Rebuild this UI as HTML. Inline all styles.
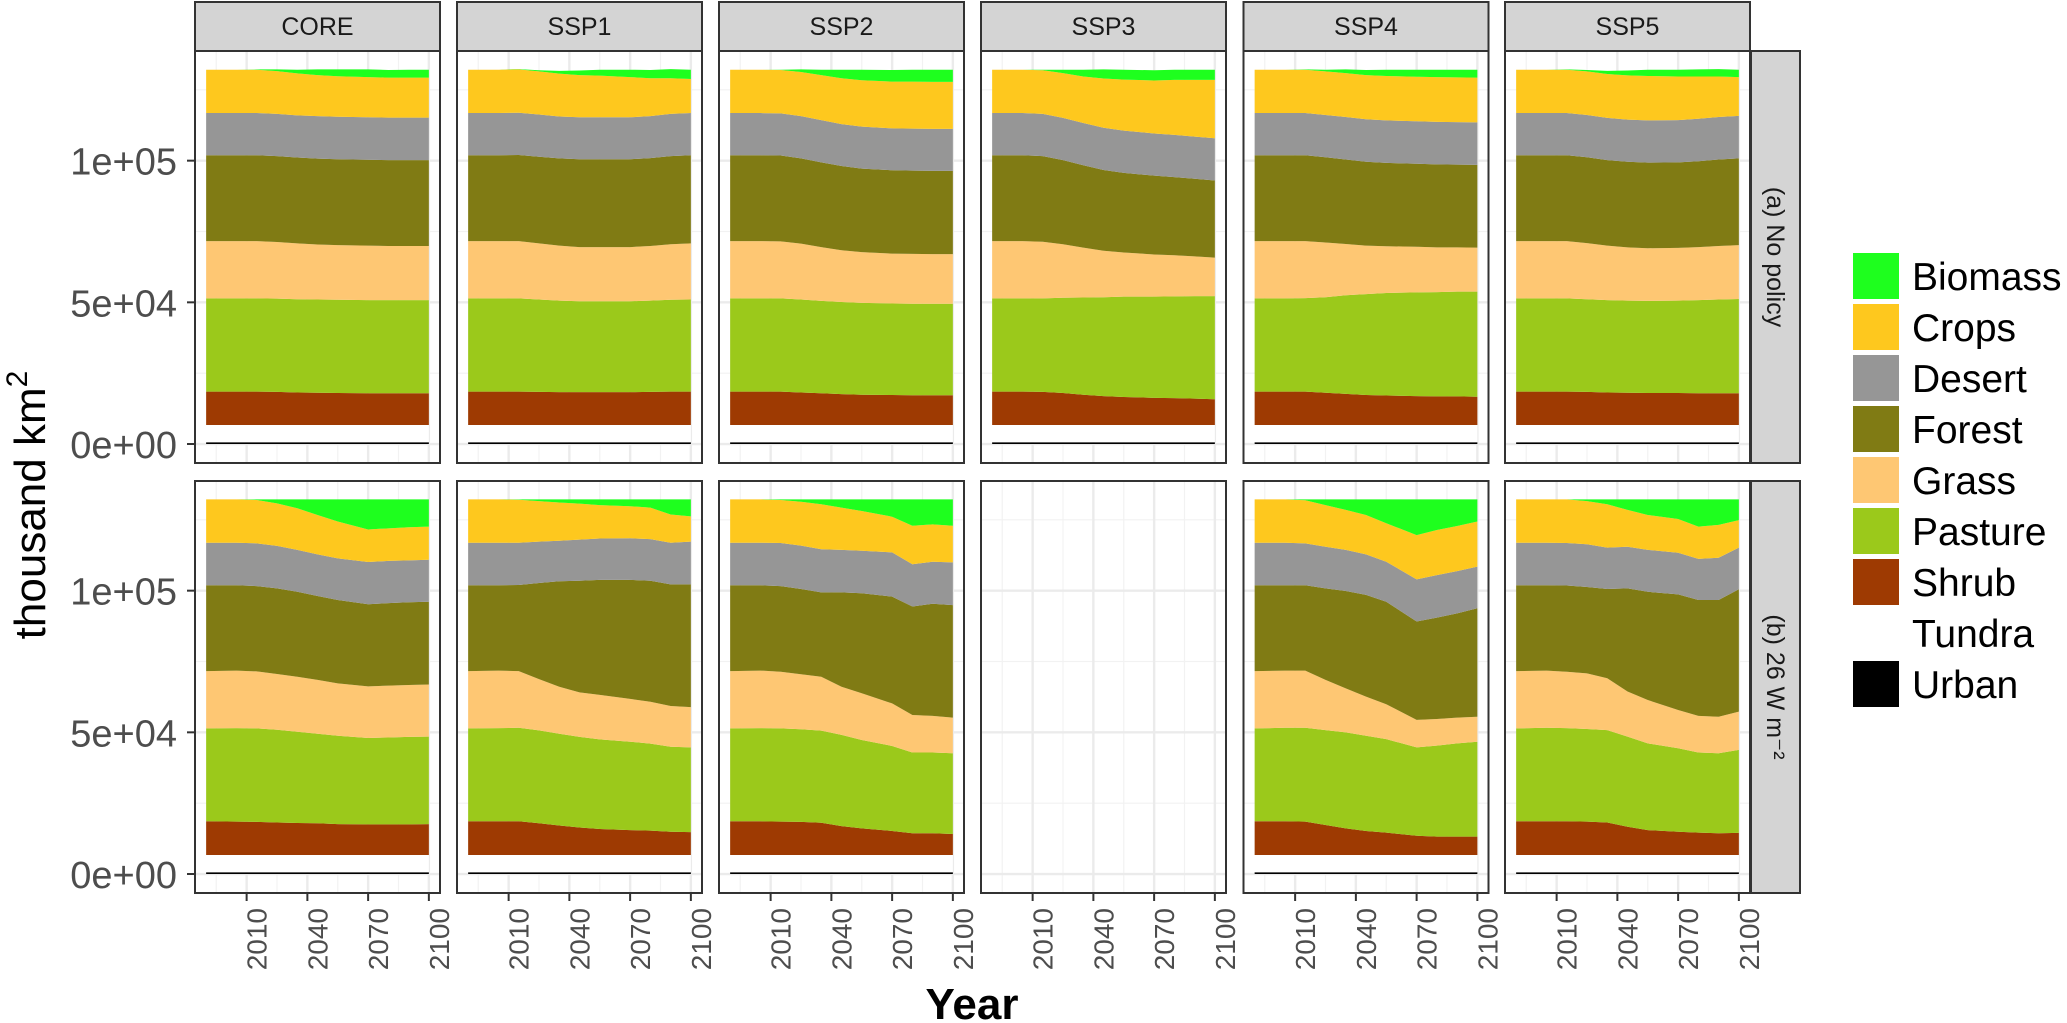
<!DOCTYPE html>
<html><head><meta charset="utf-8"><title>Land cover by scenario</title>
<style>html,body{margin:0;padding:0;background:#fff}svg{display:block;font-family:"Liberation Sans",Arial,sans-serif}</style>
</head><body>
<svg id="chart" width="2067" height="1023" viewBox="0 0 2067 1023" xmlns="http://www.w3.org/2000/svg">
<rect x="0" y="0" width="2067" height="1023" fill="#fff"/>
<g id="panels"></g>
<g id="axes"></g>
<text transform="translate(45,505) rotate(-90)" text-anchor="middle" font-size="44" fill="#000">thousand km<tspan font-size="30" dy="-18">2</tspan></text>
<text x="972" y="1019" text-anchor="middle" font-size="44" font-weight="bold" fill="#000">Year</text>
<g id="legend"></g>
</svg>
<script>
const years = [1990,2005,2015,2025,2035,2045,2055,2070,2080,2090,2100];
const scenarios = ["CORE","SSP1","SSP2","SSP3","SSP4","SSP5"];
const policies = ["(a) No policy","(b) 26 W m\u207B\u00B2"];
const yTicks = [0,50000,100000];
const yTickLabels = ["0e+00","5e+04","1e+05"];
const yMinor = [25000,75000,125000];
const xTicks = [2010,2040,2070,2100];
const xMinor = [1995,2025,2055,2085];
const categories = ["Urban","Tundra","Shrub","Pasture","Grass","Forest","Desert","Crops","Biomass"];
const legendOrder = ["Biomass","Crops","Desert","Forest","Grass","Pasture","Shrub","Tundra","Urban"];
const colors = {Biomass:"#1EFF1E",Crops:"#FEC81E",Desert:"#969696",Forest:"#807B14",Grass:"#FEC773",Pasture:"#9BC91B",Shrub:"#9E3A02",Tundra:"#FFFFFF",Urban:"#000000"};
// values in thousand km2; panels 0-5 = no policy (CORE..SSP5), 6-11 = 26 W m-2 (CORE..SSP5)
const urban = [0.6,0.6,0.6,0.6,0.6,0.6,0.6,0.6,0.6,0.6,0.6];
const tundra = [6.1,6.1,6.1,6.1,6.1,6.1,6.1,6.1,6.1,6.1,6.1];
const shrub = [
 [11.8,11.8,11.8,11.7,11.5,11.4,11.3,11.2,11.2,11.2,11.2],
 [11.8,11.8,11.8,11.7,11.6,11.6,11.6,11.6,11.7,11.8,11.8],
 [11.8,11.8,11.8,11.5,11.2,10.9,10.7,10.6,10.5,10.5,10.5],
 [11.8,11.8,11.7,11.3,10.7,10.2,9.9,9.6,9.5,9.3,9.1],
 [11.8,11.8,11.8,11.4,11.0,10.6,10.4,10.2,10.1,10.1,10.0],
 [11.8,11.8,11.8,11.7,11.5,11.4,11.3,11.3,11.2,11.2,11.2],
 [11.9,11.8,11.7,11.5,11.3,11.2,10.9,10.8,10.8,10.8,10.9],
 [11.9,11.9,11.9,11.2,10.4,9.7,9.2,8.8,8.6,8.2,8.1],
 [11.9,11.9,11.8,11.7,11.4,10.2,9.4,8.5,7.7,7.7,7.4],
 null,
 [11.9,11.9,11.8,10.6,9.4,8.5,7.9,6.8,6.5,6.5,6.5],
 [11.9,11.9,11.9,11.8,11.5,10.0,8.8,8.2,7.9,7.7,7.8]];
const pasture = [
 [32.9,32.9,32.9,32.9,32.9,32.9,32.9,32.9,32.9,32.9,32.9],
 [32.9,32.9,32.9,32.6,32.3,32.1,32.1,32.1,32.2,32.4,32.5],
 [32.9,32.9,32.9,32.8,32.6,32.5,32.4,32.3,32.3,32.3,32.3],
 [32.9,32.9,33.0,33.6,34.3,34.9,35.4,35.7,35.9,36.2,36.4],
 [32.9,32.9,33.0,33.7,34.8,35.6,36.2,36.6,36.8,37.0,37.1],
 [32.9,32.9,32.9,32.7,32.6,32.5,32.5,32.6,32.9,33.1,33.3],
 [32.8,33.0,33.0,32.7,32.2,31.6,31.2,30.5,30.7,30.9,30.9],
 [32.8,32.9,33.0,32.8,32.4,32.0,31.6,31.2,30.7,30.0,29.9],
 [32.8,32.9,32.9,32.7,32.5,32.2,31.2,30.0,28.5,28.5,28.5],
 null,
 [32.8,33.0,33.1,33.5,33.9,33.6,33.0,31.2,32.1,32.9,33.5],
 [32.8,33.0,32.9,32.7,32.6,31.8,30.6,29.5,28.3,28.2,29.3]];
const grass = [
 [20.2,20.2,20.2,20.0,19.7,19.4,19.3,19.2,19.1,19.1,19.1],
 [20.2,20.2,20.2,19.8,19.4,19.1,19.1,19.1,19.3,19.6,19.8],
 [20.2,20.2,20.1,19.7,19.0,18.3,17.9,17.6,17.6,17.5,17.5],
 [20.2,20.2,20.0,18.9,17.6,16.4,15.6,14.9,14.5,14.0,13.6],
 [20.2,20.2,20.1,19.3,18.1,17.1,16.5,16.1,15.8,15.6,15.5],
 [20.2,20.2,20.2,19.8,19.2,18.8,18.6,18.6,18.7,18.9,19.0],
 [20.2,20.3,20.1,19.7,19.4,19.0,18.5,18.2,18.3,18.3,18.4],
 [20.2,20.3,20.0,18.1,16.6,15.7,15.7,15.1,14.8,14.4,14.2],
 [20.2,20.3,20.0,19.4,19.0,17.0,16.5,15.0,13.2,12.9,12.6],
 null,
 [20.2,20.2,20.2,17.7,15.5,13.8,12.3,9.7,9.4,9.1,8.8],
 [20.2,20.2,19.9,19.6,18.3,15.9,15.3,13.5,12.9,12.9,13.5]];
const forest = [
 [30.3,30.3,30.3,30.3,30.3,30.3,30.3,30.3,30.3,30.3,30.3],
 [30.3,30.3,30.4,30.6,30.8,31.0,31.0,31.0,31.0,31.1,31.1],
 [30.3,30.3,30.3,30.1,29.9,29.7,29.5,29.4,29.4,29.4,29.4],
 [30.3,30.3,30.2,29.7,29.1,28.5,28.1,27.8,27.6,27.4,27.2],
 [30.3,30.3,30.3,30.1,29.8,29.6,29.4,29.3,29.3,29.2,29.2],
 [30.3,30.3,30.3,30.3,30.2,30.2,30.2,30.2,30.3,30.5,30.6],
 [30.3,30.1,30.1,30.2,30.0,29.6,29.4,29.0,29.1,29.2,29.2],
 [30.3,30.1,30.4,33.9,37.2,39.4,40.6,42.0,42.7,42.9,43.3],
 [30.3,30.1,30.2,30.1,29.8,33.3,35.3,37.7,38.3,39.6,39.7],
 null,
 [30.3,30.1,30.1,32.3,34.4,35.9,36.2,34.7,35.8,36.8,38.3],
 [30.3,30.1,30.4,30.5,31.5,36.4,38.2,40.8,40.9,41.2,43.2]];
const desert = [
 [14.9,14.9,14.9,14.9,14.9,15.0,15.0,15.0,15.0,15.0,15.0],
 [14.9,14.9,14.9,14.9,14.8,14.8,14.8,14.8,14.8,14.9,14.9],
 [14.9,14.9,14.9,14.9,14.9,14.8,14.8,14.8,14.8,14.8,14.8],
 [14.9,14.9,14.9,14.9,14.9,14.9,14.9,14.9,14.9,14.9,14.9],
 [14.9,14.9,14.9,14.9,15.0,15.0,15.0,15.0,15.0,15.0,15.0],
 [14.9,14.9,14.9,14.9,14.9,14.9,14.9,14.9,15.0,15.0,15.0],
 [15.0,15.0,15.1,15.0,14.8,14.7,14.7,14.9,14.9,14.8,14.8],
 [15.0,15.0,14.9,14.6,14.3,14.5,14.6,14.7,14.7,14.7,15.1],
 [15.0,15.0,15.2,15.3,15.2,15.0,15.0,15.6,14.9,14.8,15.1],
 null,
 [15.0,15.0,14.8,14.7,14.5,14.3,14.1,14.9,15.0,14.9,14.7],
 [15.0,15.0,15.0,15.1,14.6,14.7,14.8,14.7,14.5,14.9,14.7]];
const crops = [
 [15.3,15.3,15.3,15.1,14.8,14.5,14.3,14.2,14.1,14.1,14.1],
 [15.3,15.3,15.3,15.2,15.1,14.9,14.7,14.2,13.4,12.6,12.0],
 [15.3,15.3,15.3,15.6,15.9,16.2,16.4,16.5,16.6,16.6,16.6],
 [15.3,15.3,15.4,15.8,16.4,17.4,18.0,18.7,19.4,20.0,20.6],
 [15.3,15.3,15.3,15.4,15.5,15.6,15.7,15.7,15.8,15.8,15.8],
 [15.3,15.3,15.3,15.4,15.5,15.6,15.7,15.4,14.9,14.3,13.7],
 [15.3,15.3,15.3,15.0,14.7,13.9,13.0,11.5,11.5,11.7,11.7],
 [15.3,15.3,15.2,14.3,13.5,12.7,11.8,11.3,11.1,10.0,8.9],
 [15.3,15.3,15.2,15.5,15.9,14.9,14.0,12.6,13.6,13.2,12.9],
 null,
 [15.3,15.3,15.2,14.7,14.1,13.9,13.6,15.6,15.9,15.9,15.9],
 [15.3,15.3,15.4,15.2,15.3,13.0,12.3,11.9,11.4,11.6,9.7]];
const biomass = [
 [0,0,0.1,0.6,1.3,2.0,2.4,2.7,2.7,2.8,2.8],
 [0,0,0.1,0.4,1.0,1.6,2.1,2.6,2.9,3.2,3.3],
 [0,0,0.1,0.9,1.9,3.0,3.7,4.1,4.2,4.3,4.3],
 [0,0,0.2,1.2,2.4,3.2,3.5,3.6,3.6,3.6,3.6],
 [0,0,0.1,0.6,1.3,1.8,2.2,2.5,2.6,2.7,2.8],
 [0,0,0.1,0.5,1.1,1.7,2.2,2.4,2.5,2.6,2.6],
 [0,0,0.2,1.4,3.1,5.5,7.8,10.6,10.2,9.8,9.6],
 [0,0,0.1,0.6,1.1,1.5,2.0,2.4,2.9,5.3,6.0],
 [0,0,0.2,0.8,1.7,2.9,4.1,6.1,9.3,8.8,9.3],
 null,
 [0,0,0.3,2.0,3.7,5.5,8.4,12.6,10.8,9.4,7.8],
 [0,0,0,0.6,1.7,3.7,5.5,6.9,9.6,9.0,7.3]];

const NS = "http://www.w3.org/2000/svg";
const colLeft = [195,457,719,981,1243.5,1505];
const panelW = 245, rowTop = [51,481], panelH = 412;
const X_MIN = 1984.5, X_MAX = 2105.5, Y_MIN = -6700, Y_MAX = 138700;
function xScale(c, yr){ return colLeft[c] + (yr - X_MIN) / (X_MAX - X_MIN) * panelW; }
function yScale(r, v){ return rowTop[r] + panelH - (v - Y_MIN) / (Y_MAX - Y_MIN) * panelH; }
function mk(tag, attrs, parent){ const e = document.createElementNS(NS, tag); for (const k in attrs) e.setAttribute(k, attrs[k]); parent.appendChild(e); return e; }

function seriesFor(cat, p){
  if (cat === "Urban") return urban;
  if (cat === "Tundra") return tundra;
  const m = {Shrub:shrub,Pasture:pasture,Grass:grass,Forest:forest,Desert:desert,Crops:crops,Biomass:biomass};
  return m[cat][p];
}

const panelsG = document.getElementById("panels");
const axesG = document.getElementById("axes");
for (let r = 0; r < 2; r++){
  for (let c = 0; c < 6; c++){
    const p = r * 6 + c;
    const g = mk("g", {}, panelsG);
    
    
    const L = colLeft[c], T = rowTop[r];
    mk("rect", {x:L, y:T, width:panelW, height:panelH, fill:"#fff"}, g);
    // gridlines
    yMinor.forEach(v => { const l = mk("line", {x1:L, x2:L+panelW, y1:yScale(r,v), y2:yScale(r,v), stroke:"#F2F2F2", "stroke-width":1.2}, g);   });
    xMinor.forEach(v => { const l = mk("line", {y1:T, y2:T+panelH, x1:xScale(c,v), x2:xScale(c,v), stroke:"#F2F2F2", "stroke-width":1.2}, g);   });
    yTicks.forEach(v => { const l = mk("line", {x1:L, x2:L+panelW, y1:yScale(r,v), y2:yScale(r,v), stroke:"#EBEBEB", "stroke-width":2.4}, g);   });
    xTicks.forEach(v => { const l = mk("line", {y1:T, y2:T+panelH, x1:xScale(c,v), x2:xScale(c,v), stroke:"#EBEBEB", "stroke-width":2.4}, g);   });
    // stacked areas
    if (shrub[p]){
      let base = years.map(() => 0);
      categories.forEach(cat => {
        const vals = seriesFor(cat, p);
        const top = base.map((b, i) => b + vals[i]);
        let d = "";
        years.forEach((yr, i) => { d += (i ? "L" : "M") + xScale(c, yr).toFixed(2) + "," + yScale(r, top[i]*1000).toFixed(2); });
        for (let i = years.length - 1; i >= 0; i--) d += "L" + xScale(c, years[i]).toFixed(2) + "," + yScale(r, base[i]*1000).toFixed(2);
        d += "Z";
        const path = mk("path", {d:d, fill:colors[cat]}, g);
        
        
        base = top;
      });
    }
    const border = mk("rect", {x:L, y:T, width:panelW, height:panelH, fill:"none", stroke:"#333", "stroke-width":2}, g);
    
    
  }
}
// top strips
scenarios.forEach((s, c) => {
  const g = mk("g", {}, panelsG);
  
  
  mk("rect", {x:colLeft[c], y:2, width:panelW, height:49, fill:"#D4D4D4", stroke:"#333", "stroke-width":2}, g);
  const t = mk("text", {x:colLeft[c]+panelW/2, y:35, "text-anchor":"middle", "font-size":25, fill:"#1A1A1A"}, g);
  t.textContent = s;
});
// right strips
policies.forEach((s, r) => {
  const g = mk("g", {}, panelsG);
  
  
  mk("rect", {x:1751, y:rowTop[r], width:49, height:panelH, fill:"#D4D4D4", stroke:"#333", "stroke-width":2}, g);
  const cy = rowTop[r] + panelH/2;
  const t = mk("text", {transform:"translate(1767," + cy + ") rotate(90)", "text-anchor":"middle", "font-size":25, fill:"#1A1A1A"}, g);
  t.textContent = s;
});
// y axis ticks
for (let r = 0; r < 2; r++){
  yTicks.forEach((v, i) => {
    const y = yScale(r, v);
    const tk = mk("line", {x1:187, x2:195, y1:y, y2:y, stroke:"#333", "stroke-width":2}, axesG);
    
    
    const t = mk("text", {x:177, y:y+14, "text-anchor":"end", "font-size":38, fill:"#4D4D4D"}, axesG);
    
    
    t.textContent = yTickLabels[i];
  });
}
// x axis ticks (bottom row)
for (let c = 0; c < 6; c++){
  xTicks.forEach(v => {
    const x = xScale(c, v);
    const tk = mk("line", {x1:x, x2:x, y1:893, y2:901, stroke:"#333", "stroke-width":2}, axesG);
    
    
    const t = mk("text", {transform:"translate(" + (x+20) + ",908) rotate(-90)", "text-anchor":"end", "font-size":28, fill:"#4D4D4D"}, axesG);
    
    
    t.textContent = String(v);
  });
}
// legend
const legG = document.getElementById("legend");
legendOrder.forEach((cat, i) => {
  const y = 253 + i * 51;
  const g = mk("g", {}, legG);
  
  
  mk("rect", {x:1853, y:y, width:46, height:46, fill:colors[cat]}, g);
  const t = mk("text", {x:1912, y:y+37, "font-size":39, fill:"#000"}, g);
  t.textContent = cat;
});
</script>
</body></html>
